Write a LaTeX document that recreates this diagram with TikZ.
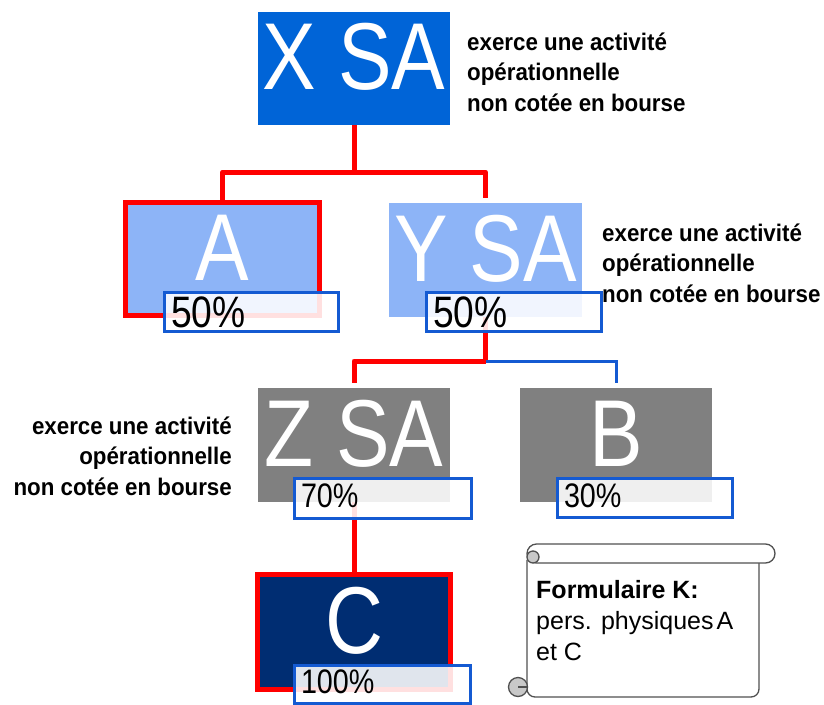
\documentclass[tikz,border=0pt]{standalone}
\usepackage{fontspec}
\setmainfont{Liberation Sans}
\newfontfamily\namefont[FakeStretch=0.845]{Liberation Sans}
\newfontfamily\notefont[FakeStretch=0.93]{Liberation Sans}
\usetikzlibrary{calc}

\definecolor{entblue}{RGB}{0,100,215}
\definecolor{entlight}{RGB}{141,180,247}
\definecolor{entgray}{RGB}{128,128,128}
\definecolor{entnavy}{RGB}{0,45,114}
\definecolor{linkred}{RGB}{255,0,0}
\definecolor{tagblue}{RGB}{20,90,210}
\definecolor{scrollline}{RGB}{80,80,80}
\definecolor{scrollcurl}{RGB}{200,200,200}

\pgfdeclarelayer{paper}
\pgfdeclarelayer{links}
\pgfdeclarelayer{shares}
\pgfsetlayers{paper,links,main,shares}

\begin{document}
\begin{tikzpicture}[x=1pt,y=-1pt,
  entity/.style={rectangle, inner sep=0pt, outer sep=0pt, anchor=north west,
    text=white, font=\namefont\fontsize{95}{95}\selectfont,
    text height=68pt, text depth=26pt},
  marked/.style={draw=linkred, line width=5pt},
  share/.style={rectangle, anchor=north west, draw=tagblue, line width=3pt,
    fill=white, fill opacity=0.88, text opacity=1, inner ysep=0pt,
    inner xsep=7pt, align=left, outer sep=0pt},
  bigshare/.style={share, font=\namefont\fontsize{44}{44}\selectfont,
    text height=31.5pt, text depth=0.5pt},
  smallshare/.style={share, font=\namefont\fontsize{34}{34}\selectfont,
    text height=24.5pt, text depth=5pt},
  redlink/.style={draw=linkred, line width=5pt, line join=round},
  bluelink/.style={draw=tagblue, line width=3pt},
  note/.style={font=\notefont\bfseries\fontsize{24}{30.5}\selectfont, inner sep=0pt},
  scrollpath/.style={draw=scrollline, line width=1.3pt}
]
\begin{pgfonlayer}{paper}
\fill[white] (0,0) rectangle (824,704);
\end{pgfonlayer}
\useasboundingbox (0,0) rectangle (824,704);

% companies
\node[entity, minimum width=192pt, minimum height=113pt, fill=entblue] (X) at (258,12) {X SA};
\node[entity, minimum width=194pt, minimum height=113pt, fill=entlight, marked] (A) at (125.5,202.5) {A};
\node[entity, minimum width=193pt, minimum height=114pt, fill=entlight] (Y) at (389,203) {Y SA};
\node[entity, minimum width=192pt, minimum height=114pt, fill=entgray] (Z) at (258,388) {Z SA};
\node[entity, minimum width=192pt, minimum height=114pt, fill=entgray] (B) at (520,388) {B};
\node[entity, minimum width=193pt, minimum height=115pt, fill=entnavy, marked] (C) at (257.5,574.5) {C};

% junction points of the links
\coordinate (j1) at ($(X.south)+(0,47)$);
\coordinate (j2) at ($(Y.south)+(0,44)$);

% links, kept below the boxes
\begin{pgfonlayer}{links}
\draw[redlink] (X.south) -- (j1) -| (A.north);
\draw[redlink, shorten >=5pt] (j1) -| (Y.north);
\draw[redlink] (Y.south) -- (j2);
\draw[redlink, shorten >=5pt] (j2) -| (Z.north);
\draw[bluelink, shorten >=5pt] (j2) -| (B.north);
\draw[redlink] (Z.south) -- (C.north);
\end{pgfonlayer}

% shareholdings, above boxes and links
\begin{pgfonlayer}{shares}
\node[bigshare, text width=160pt, minimum height=39pt] (pA) at (164,292) {50\%};
\node[bigshare, text width=161pt, minimum height=39pt] (pY) at (426,292) {50\%};
\node[smallshare, text width=163pt, minimum height=40pt] (pZ) at (294,478) {70\%};
\node[smallshare, text width=161pt, minimum height=39pt] (pB) at (557,478) {30\%};
\node[smallshare, text width=162pt, minimum height=38pt] (pC) at (294,665) {100\%};
\end{pgfonlayer}

% activity notes (anchored on the baseline of their last line)
\node[note, anchor=base west, align=left] (nX) at (467,111)
  {exerce une activité\\opérationnelle\\non cotée en bourse};
\node[note, anchor=base west, align=left] (nY) at (602,302)
  {exerce une activité\\opérationnelle\\non cotée en bourse};
\node[note, anchor=base east, align=right] (nZ) at (232,495)
  {exerce une activité\\opérationnelle\\non cotée en bourse};

% scroll with the form note
\filldraw[scrollpath, fill=white, rounded corners=8pt]
  (527,560) -- (527,697) -- (759,697) -- (759,560);
\filldraw[scrollpath, fill=scrollcurl] (518,687) circle (9.5pt);
\draw[scrollpath] (518,687) -- (527,687);
\filldraw[scrollpath, fill=white, rounded corners=9.5pt]
  (527,544) rectangle (775,563);
\filldraw[scrollpath, fill=scrollcurl] (533,557) circle (6pt);
\node[inner sep=0pt, anchor=base west, align=left,
  font=\fontsize{25}{31}\selectfont] (form) at (536,660)
  {\textbf{Formulaire K:}\\pers. physiques\hspace{3pt}A\\et C};
\end{tikzpicture}
\end{document}
